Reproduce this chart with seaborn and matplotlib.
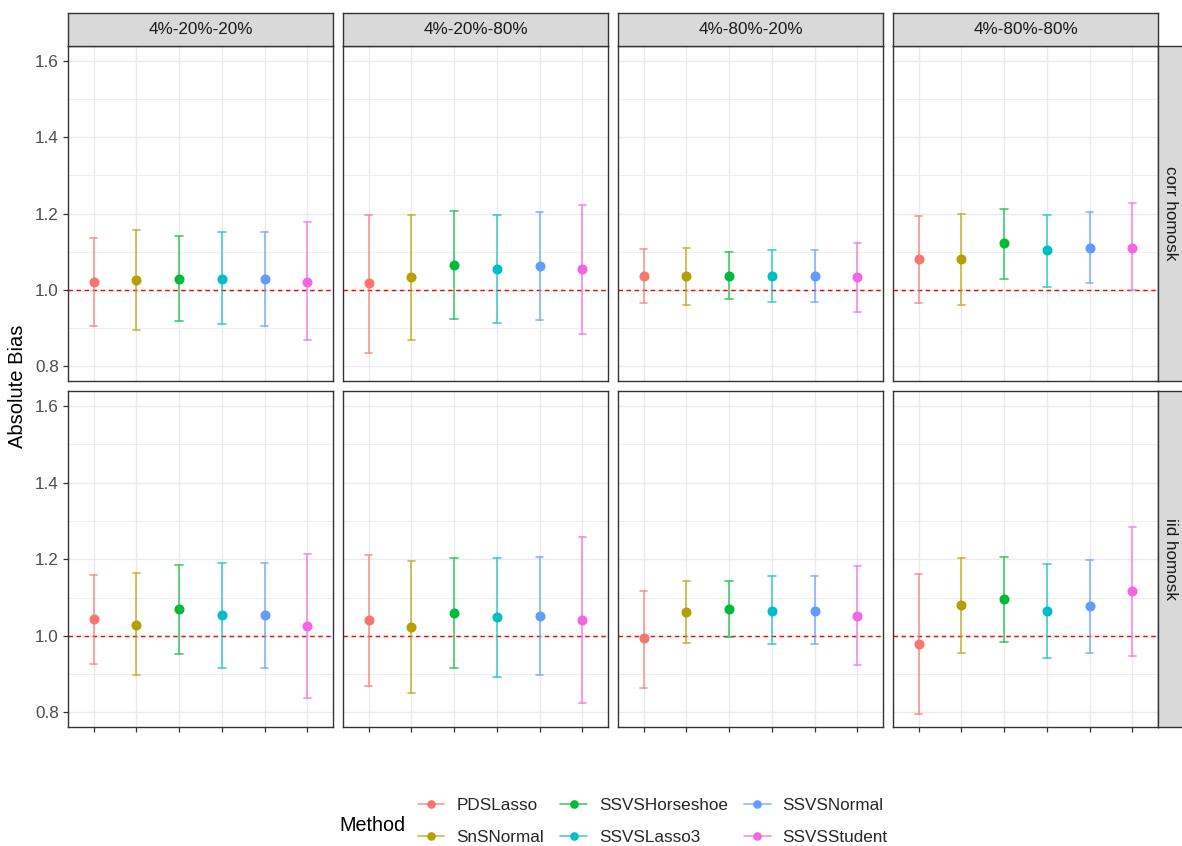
import numpy as np
import pandas as pd
import matplotlib
matplotlib.use("Agg")
import matplotlib.pyplot as plt
from matplotlib.lines import Line2D
import seaborn as sns

# ---------------- data ----------------
methods = ["PDSLasso", "SnSNormal", "SSVSHorseshoe", "SSVSLasso3", "SSVSNormal", "SSVSStudent"]
designs = ["4%-20%-20%", "4%-20%-80%", "4%-80%-20%", "4%-80%-80%"]
errors = ["corr homosk", "iid homosk"]
colors = ["#F8766D", "#B79F00", "#00BA38", "#00BFC4", "#619CFF", "#F564E3"]

# corr homosk: one list per design, values per method
corr_est = [[1.022, 1.026, 1.029, 1.029, 1.029, 1.022],
            [1.019, 1.033, 1.066, 1.056, 1.063, 1.056],
            [1.036, 1.036, 1.036, 1.036, 1.036, 1.033],
            [1.081, 1.081, 1.122, 1.104, 1.111, 1.111]]
corr_lo = [[0.905, 0.896, 0.918, 0.910, 0.905, 0.869],
           [0.835, 0.869, 0.925, 0.914, 0.921, 0.884],
           [0.965, 0.962, 0.977, 0.969, 0.969, 0.943],
           [0.965, 0.962, 1.029, 1.007, 1.018, 1.000]]
corr_hi = [[1.137, 1.156, 1.141, 1.152, 1.152, 1.178],
           [1.197, 1.197, 1.208, 1.197, 1.204, 1.223],
           [1.107, 1.111, 1.100, 1.104, 1.104, 1.122],
           [1.193, 1.200, 1.211, 1.196, 1.204, 1.227]]
# iid homosk
iid_est = [[1.044, 1.029, 1.070, 1.055, 1.055, 1.025],
           [1.040, 1.022, 1.059, 1.048, 1.052, 1.040],
           [0.993, 1.063, 1.070, 1.066, 1.066, 1.052],
           [0.978, 1.081, 1.095, 1.066, 1.077, 1.118]]
iid_lo = [[0.926, 0.897, 0.952, 0.916, 0.916, 0.838],
          [0.868, 0.852, 0.916, 0.893, 0.897, 0.824],
          [0.865, 0.982, 0.997, 0.978, 0.978, 0.923],
          [0.795, 0.956, 0.985, 0.941, 0.956, 0.948]]
iid_hi = [[1.159, 1.165, 1.184, 1.190, 1.190, 1.213],
          [1.210, 1.195, 1.202, 1.202, 1.206, 1.258],
          [1.117, 1.143, 1.143, 1.155, 1.155, 1.181],
          [1.162, 1.203, 1.206, 1.188, 1.198, 1.284]]

# long table: lower / estimate / upper rows per cell
rows = []
for e, (est, lo, hi) in zip(errors, [(corr_est, corr_lo, corr_hi), (iid_est, iid_lo, iid_hi)]):
    for j, d in enumerate(designs):
        for k, m in enumerate(methods):
            for v in (lo[j][k], est[j][k], hi[j][k]):
                rows.append({"Error": e, "Design": d, "Method": m, "value": v})
df = pd.DataFrame(rows)

# ---------------- style ----------------
sns.set_theme(style="white")
plt.rcParams["font.family"] = ["Liberation Sans", "DejaVu Sans"]

W, H = 1182, 846
fig = plt.figure(figsize=(W / 100, H / 100), dpi=100)
fig.patch.set_facecolor("white")


def box(x0, y0, x1, y1):
    return [x0 / W, 1 - y1 / H, (x1 - x0) / W, (y1 - y0) / H]


pal = dict(zip(methods, colors))
border = "#333333"
small = 12.3

row_y = [(46, 381), (391, 727)]
for r, e in enumerate(errors):
    for c, d in enumerate(designs):
        x0 = 68 + c * 275
        x1 = x0 + 265
        y0, y1 = row_y[r]
        ax = fig.add_axes(box(x0, y0, x1, y1))
        sub = df[(df["Error"] == e) & (df["Design"] == d)]
        ax.axhline(1.0, color="red", lw=1.0, ls=(0, (3.2, 2.6)), zorder=1)
        sns.pointplot(data=sub, x="Method", y="value", hue="Method",
                      order=methods, hue_order=methods, palette=pal,
                      estimator="median", errorbar=("pi", 100),
                      capsize=0.17, linestyle="none", markersize=5.2,
                      err_kws={"linewidth": 1.2, "alpha": 0.72},
                      legend=False, ax=ax)
        ax.set_xlim(-0.6, 5.6)
        ax.set_ylim(0.762, 1.639)
        ax.set_yticks([0.8, 1.0, 1.2, 1.4, 1.6])
        ax.set_yticks([0.9, 1.1, 1.3, 1.5], minor=True)
        ax.set_yticklabels(["0.8", "1.0", "1.2", "1.4", "1.6"])
        ax.set_axisbelow(True)
        ax.grid(True, which="major", axis="both", color="#EBEBEB", lw=1.0)
        ax.grid(True, which="minor", axis="y", color="#EBEBEB", lw=0.55)
        ax.set_xlabel("")
        ax.set_ylabel("")
        for s in ax.spines.values():
            s.set_color(border)
            s.set_linewidth(1.0)
        ax.tick_params(axis="both", which="minor", length=0)
        if c == 0:
            ax.tick_params(axis="y", which="major", left=True, labelleft=True,
                           length=3.5, width=0.9, color=border, pad=3,
                           labelsize=small, labelcolor="#4D4D4D")
        else:
            ax.tick_params(axis="y", which="major", left=False, labelleft=False)
        if r == 1:
            ax.tick_params(axis="x", which="major", bottom=True, labelbottom=False,
                           length=3.5, width=0.9, color=border)
        else:
            ax.tick_params(axis="x", which="major", bottom=False, labelbottom=False)

        # top strips
        if r == 0:
            sax = fig.add_axes(box(x0, 13, x1, 46))
            sax.set_facecolor("#D9D9D9")
            sax.set_xticks([])
            sax.set_yticks([])
            for s in sax.spines.values():
                s.set_color(border)
                s.set_linewidth(1.0)
            sax.text(0.5, 0.5, d, ha="center", va="center", transform=sax.transAxes,
                     fontsize=small, color="#1A1A1A")
    # right strips
    y0, y1 = row_y[r]
    rax = fig.add_axes(box(1158, y0, 1186, y1))
    rax.set_facecolor("#D9D9D9")
    rax.set_xticks([])
    rax.set_yticks([])
    for s in rax.spines.values():
        s.set_color(border)
        s.set_linewidth(1.0)
    fig.text(1170 / W, 1 - (y0 + y1) / 2 / H, e, rotation=-90, ha="center", va="center",
             fontsize=small, color="#1A1A1A")

# axis title
fig.text(18 / W, 1 - 386.5 / H, "Absolute Bias", rotation=90, ha="center", va="center",
         fontsize=14.5, color="black")

# legend
handles = []
for m, col in zip(methods, colors):
    rgba = matplotlib.colors.to_rgba(col, 0.72)
    handles.append(Line2D([0], [0], color=rgba, lw=1.2, marker="o", markersize=5.2,
                          markerfacecolor=col, markeredgecolor=col))
leg = fig.legend(handles, methods, ncol=3, loc="center left",
                 bbox_to_anchor=(418 / W, 1 - 821.5 / H), frameon=False,
                 fontsize=small, handlelength=1.55, handletextpad=0.7,
                 columnspacing=0.95, labelspacing=1.05, borderpad=0, borderaxespad=0)
fig.text(339 / W, 1 - 825 / H, "Method", ha="left", va="center", fontsize=14.2, color="black")

fig.savefig("out.png", dpi=100, facecolor="white")
